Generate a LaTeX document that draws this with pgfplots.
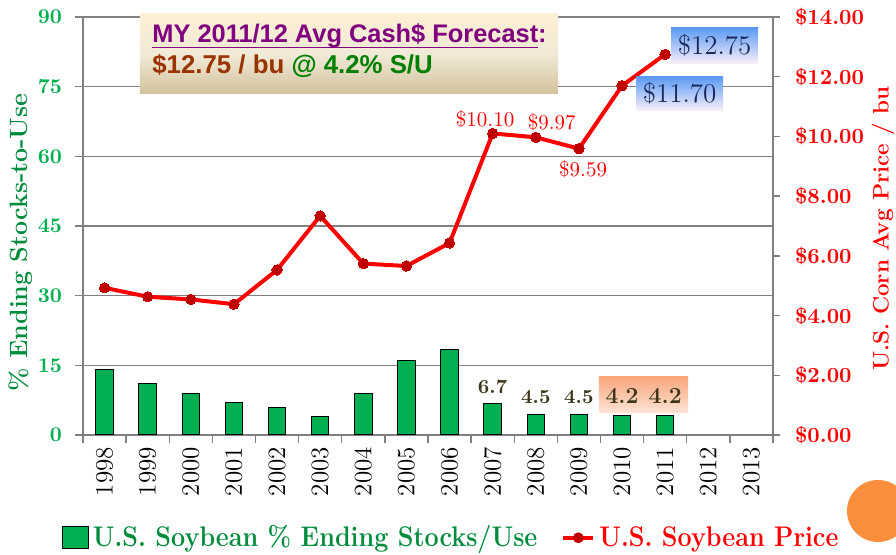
\documentclass[border=0pt]{standalone}
\usepackage{pgfplots}
\pgfplotsset{compat=1.18}
\usepackage{fontspec}
\newfontfamily\arialfont{Liberation Sans}
\definecolor{sgreen}{RGB}{0,176,80}
\definecolor{tickgreen}{RGB}{0,176,80}
\definecolor{lblgreen}{RGB}{0,140,60}
\definecolor{darkred}{RGB}{192,0,0}
\definecolor{pricered}{RGB}{255,0,0}
\definecolor{olive}{RGB}{60,55,25}
\definecolor{titletop}{RGB}{253,239,211}
\definecolor{titlemid}{RGB}{241,234,216}
\definecolor{titlebot}{RGB}{210,194,156}
\definecolor{titlepurple}{RGB}{128,0,128}
\definecolor{titlebrown}{RGB}{153,51,0}
\definecolor{titlegreen}{RGB}{0,128,0}
\definecolor{boxblue}{RGB}{88,152,245}
\definecolor{boxlight}{RGB}{246,238,248}
\definecolor{navy}{RGB}{25,40,90}
\definecolor{boxorange}{RGB}{249,166,124}
\definecolor{boxpeach}{RGB}{253,228,214}
\definecolor{orangedot}{RGB}{249,142,60}
\newcommand{\myul}[1]{\setbox0\hbox{#1}\rlap{\rule[-2.6pt]{\wd0}{0.7pt}}\box0}
\pgfplotsset{/pgf/number format/assume math mode=true}
\begin{document}
\begin{tikzpicture}
\useasboundingbox (-41.5pt,-60pt) rectangle (406.5pt,217.5pt);
\begin{axis}[
  scale only axis, width=345pt, height=209pt,
  xmin=-0.5, xmax=15.5, ymin=0, ymax=90,
  axis line style={draw=gray, line width=0.7pt},
  xtick pos=left, ytick pos=left,
  tick align=outside,
  ytick={0,15,...,90},
  ymajorgrids, grid style={gray, line width=0.7pt},
  y tick style={gray, line width=0.7pt}, major tick length=4pt,
  xtick={0,...,15},
  xticklabels={1998,1999,2000,2001,2002,2003,2004,2005,2006,2007,2008,2009,2010,2011,2012,2013},
  major x tick style={draw=none},
  minor xtick={-0.5,0.5,...,15.5},
  minor x tick style={gray, line width=0.7pt}, minor tick length=4pt,
  xticklabel shift=-1.5pt,
  xticklabel style={rotate=90, anchor=east, font=\fontsize{12.5}{14}\selectfont, text=black},
  yticklabel style={font=\fontsize{10.5}{12}\selectfont\bfseries, text=tickgreen, xshift=-3pt},
  ylabel={\textbf{\% Ending Stocks-to-Use}},
  every axis y label/.style={at={(axis description cs:-0.0899,0.4605)}, anchor=center, rotate=90, font=\fontsize{12.5}{14}\selectfont\bfseries, text=lblgreen},
  legend columns=2,
  legend style={at={(axis description cs:0.535,-0.246)}, anchor=center, draw=none, fill=none,
    font=\fontsize{14.2}{16}\selectfont\bfseries,
    /tikz/every even column/.append style={column sep=10pt}},
  clip=false,
]
\addplot[ybar, bar width=8.7pt, fill=sgreen, draw=black, line width=0.5pt,
  legend image code/.code={\draw[fill=sgreen,draw=black,line width=0.5pt] (0pt,-5.5pt) rectangle (13pt,5.5pt);}]
  coordinates {(0,14) (1,11) (2,9) (3,7) (4,6) (5,4) (6,9) (7,16) (8,18.5) (9,6.7) (10,4.5) (11,4.5) (12,4.2) (13,4.2)};
\addlegendentry{\scalebox{0.885}[1]{\textbf{\textcolor{lblgreen}{U.S. Soybean \% Ending Stocks/Use}}}}
\addlegendimage{legend image code/.code={\draw[pricered,line width=2pt] (0pt,0pt) -- (15pt,0pt); \fill[darkred] (7.5pt,0pt) circle (2.5pt);}}
\addlegendentry{\scalebox{0.885}[1]{\textbf{\textcolor{pricered}{U.S. Soybean Price}}}}
\shade[top color=boxorange, bottom color=boxpeach] (axis cs:11.465,4.74) rectangle (axis cs:13.53,12.49);
\node[font=\fontsize{10}{12}\selectfont\bfseries, text=olive, yshift=8.45pt] at (axis cs:9,6.7) {6.7};
\node[font=\fontsize{10}{12}\selectfont\bfseries, text=olive, yshift=8.5pt] at (axis cs:10,4.5) {4.5};
\node[font=\fontsize{10}{12}\selectfont\bfseries, text=olive, yshift=8.5pt] at (axis cs:11,4.5) {4.5};
\node[font=\fontsize{11.5}{13}\selectfont\bfseries, text=olive, yshift=9.75pt] at (axis cs:12,4.2) {4.2};
\node[font=\fontsize{11.5}{13}\selectfont\bfseries, text=olive, yshift=9.75pt] at (axis cs:13,4.2) {4.2};
\end{axis}
\begin{axis}[
  scale only axis, width=345pt, height=209pt,
  xmin=-0.5, xmax=15.5, ymin=0, ymax=14,
  axis x line=none, axis y line*=right,
  axis line style={draw=gray, line width=0.7pt, -},
  tick align=outside, major tick length=3.5pt,
  y tick style={gray, line width=0.7pt},
  ytick={0,2,...,14},
  yticklabel={\$\pgfmathprintnumber[fixed,fixed zerofill,precision=2]{\tick}},
  yticklabel style={font=\fontsize{10.8}{12}\selectfont\bfseries, text=pricered, xshift=4pt},
  ylabel={\textbf{U.S. Corn Avg Price / bu}},
  every axis y label/.style={at={(axis description cs:1.1594,0.494)}, anchor=center, rotate=90, font=\fontsize{11.2}{13}\selectfont\bfseries, text=pricered},
  clip=false,
]
\addplot[pricered, line width=2pt, mark=*, mark size=2.6pt, mark options={fill=darkred, draw=darkred, line width=0pt}]
  coordinates {(0,4.93) (1,4.63) (2,4.54) (3,4.38) (4,5.53) (5,7.34) (6,5.74) (7,5.66) (8,6.43) (9,10.10) (10,9.97) (11,9.59) (12,11.70) (13,12.75)};
\node[font=\fontsize{10.5}{12}\selectfont, text=pricered, xshift=-3.8pt, yshift=7.2pt] at (axis cs:9,10.10) {\$10.10};
\node[font=\fontsize{10.5}{12}\selectfont, text=pricered, xshift=8pt, yshift=7.8pt] at (axis cs:10,9.97) {\$9.97};
\node[font=\fontsize{10.5}{12}\selectfont, text=pricered, xshift=2.1pt, yshift=-10.2pt] at (axis cs:11,9.59) {\$9.59};
\node[anchor=center, xshift=24.75pt, yshift=4.65pt, minimum width=43.5pt, minimum height=18pt, inner sep=0pt,
  top color=boxblue, bottom color=boxlight, text=navy, font=\fontsize{13.5}{15}\selectfont] at (axis cs:13,12.75) {\$12.75};
\node[anchor=center, xshift=28.75pt, yshift=-3.7pt, minimum width=43.5pt, minimum height=17pt, inner sep=0pt,
  top color=boxblue, bottom color=boxlight, text=navy, font=\fontsize{13.5}{15}\selectfont] at (axis cs:12,11.70) {\$11.70};
\end{axis}
\shade[top color=titletop, bottom color=titlebot, middle color=titlemid] (28.5pt,170.5pt) rectangle (237.5pt,210.5pt);
\node[anchor=base west, inner sep=0pt, font=\arialfont\bfseries\fontsize{12.7}{14}\selectfont, text=titlepurple] at (34.5pt,196pt) {\myul{MY 2011/12 Avg Cash\$ Forecast}:};
\node[anchor=base west, inner sep=0pt, font=\arialfont\bfseries\fontsize{12.9}{14}\selectfont] at (34.5pt,180.5pt) {\textcolor{titlebrown}{\$12.75 / bu} \textcolor{titlegreen}{@ 4.2\% S/U}};
\fill[orangedot] (397.5pt,-38pt) circle (15.5pt);
\end{tikzpicture}
\end{document}
